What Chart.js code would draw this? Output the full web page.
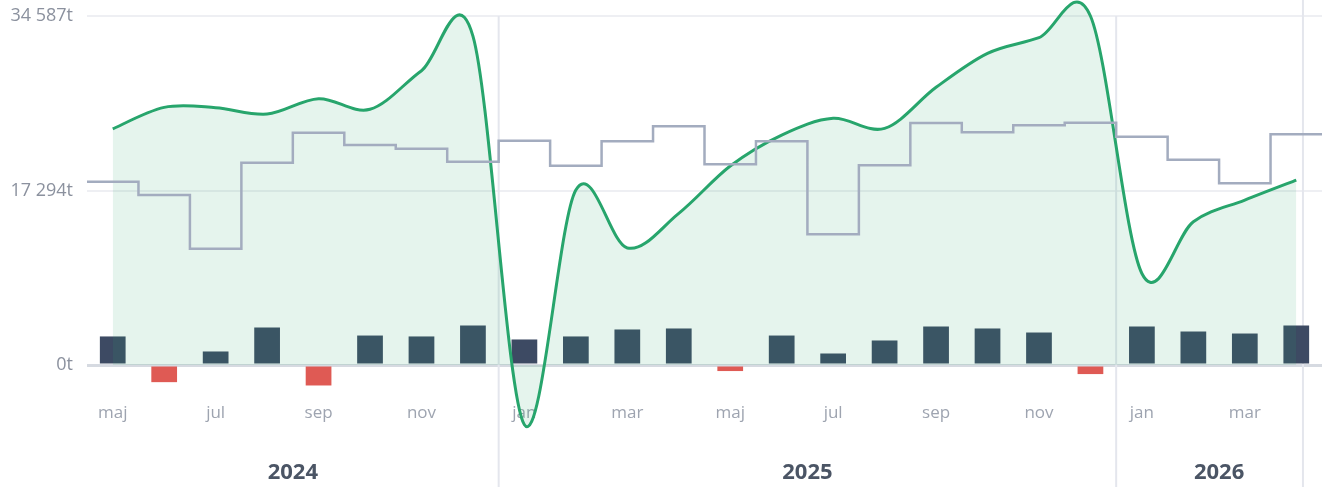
<!DOCTYPE html>
<html>
<head>
<meta charset="utf-8">
<script src="https://cdn.jsdelivr.net/npm/chart.js@4.4.1/dist/chart.umd.min.js"></script>
<style>
  html, body { margin: 0; padding: 0; background: #fff; }
  #wrap { width: 1329px; height: 487px; }
</style>
</head>
<body>
<div id="wrap"><canvas id="chart"></canvas></div>
<script>
var months = ['maj','jun','jul','aug','sep','okt','nov','dec','jan','feb','mar','apr','maj','jun','jul','aug','sep','okt','nov','dec','jan','feb','mar','apr'];
var years = ['2024', '2025', '2026'];
var monthsInYear = [8, 12, 4];

// monthly net change (bars)
var netFlow = [2830, -1700, 1340, 3720, -2030, 2920, 2830, 3920, 2530, 2830, 3520, 3620, -600, 2920, 1140, 2430, 3820, 3620, 3220, -900, 3820, 3320, 3120, 3920];
// monthly level (grey steps)
var monthlyLevel = [18160, 16850, 11530, 20050, 23020, 21800, 21440, 20150, 22230, 19750, 22170, 23650, 19890, 22170, 12950, 19790, 23980, 23060, 23750, 24010, 22620, 20350, 18000, 22860];
// balance (green curve)
var balance = [23390, 25530, 25500, 24870, 26390, 25340, 29170, 32600, -5920, 17340, 11600, 15030, 19720, 22790, 24450, 23450, 27520, 30890, 32440, 34587, 9070, 14200, 16350, 18330];
var todayIndex = 23.13;

var GREEN = function(alpha){ return 'rgba(39,168,109,' + alpha + ')'; };
var DARK = '#3d4a63';
var RED = '#df5a54';
var SEP = '#e4e6ed';

var yTop = Math.max.apply(null, balance);

var fmt = function(v){
    return String(Math.round(v)).replace(/\B(?=(\d{3})+(?!\d))/g, ' ') + 't';
};

// step points span each month's full width
var stepPoints = monthlyLevel.map(function(v, i){ return {x: i - 0.5, y: v}; });
stepPoints.push({x: monthlyLevel.length - 0.5, y: monthlyLevel[monthlyLevel.length - 1]});

// year label positions and separators
var yearCenters = [];
var yearBounds = [];
var start = 0;
for (var i = 0; i < monthsInYear.length; i++) {
    yearCenters.push(start + (monthsInYear[i] - 1) / 2);
    start += monthsInYear[i];
    if (i < monthsInYear.length - 1) yearBounds.push(start - 0.5);
}

var separators = {
    id: 'separators',
    beforeDatasetsDraw: function(chart){
        var ctx = chart.ctx;
        var xs = chart.scales.xy;
        var ys = chart.scales.y;
        ctx.save();
        ctx.strokeStyle = SEP;
        ctx.lineWidth = 2;
        yearBounds.forEach(function(b){
            var x = xs.getPixelForValue(b);
            ctx.beginPath();
            ctx.moveTo(x, ys.getPixelForValue(yTop));
            ctx.lineTo(x, chart.height);
            ctx.stroke();
        });
        var tx = xs.getPixelForValue(todayIndex);
        ctx.beginPath();
        ctx.moveTo(tx, 0);
        ctx.lineTo(tx, chart.height);
        ctx.stroke();
        ctx.restore();
    }
};

// uniform catmull-rom control points for the balance curve
var catmullRom = {
    id: 'catmullRom',
    beforeDatasetsDraw: function(chart){
        var meta = chart.getDatasetMeta(1);
        meta.dataset.updateControlPoints(chart.chartArea, 'x');
        var p = meta.data;
        for (var i = 0; i < p.length; i++) {
            var a = p[Math.max(i - 1, 0)];
            var b = p[Math.min(i + 1, p.length - 1)];
            var dx = (b.x - a.x) / 6, dy = (b.y - a.y) / 6;
            p[i].cp1x = p[i].x - dx; p[i].cp1y = p[i].y - dy;
            p[i].cp2x = p[i].x + dx; p[i].cp2y = p[i].y + dy;
        }
    }
};

Chart.defaults.font.family = "'Open Sans', sans-serif";

new Chart(document.getElementById('chart'), {
    data: {
        labels: months,
        datasets: [
            {
                type: 'line',
                xAxisID: 'xy',
                data: stepPoints,
                stepped: true,
                borderColor: '#a3acbf',
                borderWidth: 2.5,
                pointRadius: 0,
                fill: false,
                order: 1
            },
            {
                type: 'line',
                xAxisID: 'x',
                data: balance,
                borderColor: '#27a56c',
                borderWidth: 3,
                backgroundColor: GREEN(0.12),
                fill: 'origin',
                tension: 0.4,
                capBezierPoints: false,
                pointRadius: 0,
                clip: false,
                order: 2
            },
            {
                type: 'bar',
                xAxisID: 'x',
                data: netFlow,
                backgroundColor: function(c){ return c.raw < 0 ? RED : DARK; },
                grouped: false,
                barPercentage: 0.5,
                categoryPercentage: 1,
                order: 3
            }
        ]
    },
    options: {
        responsive: true,
        maintainAspectRatio: false,
        animation: false,
        layout: { padding: { left: 0, right: 7, top: 0, bottom: 0 } },
        plugins: { legend: { display: false }, tooltip: { enabled: false } },
        scales: {
            x: {
                type: 'category',
                position: 'bottom',
                offset: true,
                weight: 0,
                grid: { display: false, drawTicks: false },
                border: { display: false },
                ticks: {
                    mirror: true,
                    padding: 21,
                    autoSkip: false,
                    maxRotation: 0,
                    color: '#9ea4b0',
                    font: { size: 17 },
                    callback: function(v, i){ return i % 2 ? '' : this.getLabelForValue(v); }
                }
            },
            xy: {
                type: 'linear',
                position: 'bottom',
                min: -0.5,
                max: months.length - 0.5,
                weight: 1,
                grid: { display: false, drawTicks: false },
                border: { display: false },
                afterBuildTicks: function(s){
                    s.ticks = yearCenters.map(function(v){ return {value: v}; });
                },
                ticks: {
                    mirror: true,
                    padding: 0.5,
                    maxRotation: 0,
                    color: '#4b5565',
                    font: { size: 22, weight: 'bold' },
                    callback: function(v, i){ return years[i]; }
                }
            },
            y: {
                min: -yTop * 0.22636,
                max: yTop * 1.04585,
                afterFit: function(s){
                    s.width = 87;
                    s.paddingTop = 0;
                    s.paddingBottom = 0;
                },
                afterBuildTicks: function(s){
                    s.ticks = [0, yTop / 2, yTop].map(function(v){ return {value: v}; });
                },
                grid: {
                    drawTicks: false,
                    color: function(c){ return c.tick.value === 0 ? '#d6dae1' : '#eeeff3'; },
                    lineWidth: function(c){ return c.tick.value === 0 ? 3 : 2; }
                },
                border: { display: false },
                ticks: {
                    padding: 14,
                    color: '#8b919e',
                    font: { size: 18 },
                    callback: function(v){ return fmt(v); }
                }
            }
        }
    },
    plugins: [separators, catmullRom]
});
</script>
</body>
</html>
